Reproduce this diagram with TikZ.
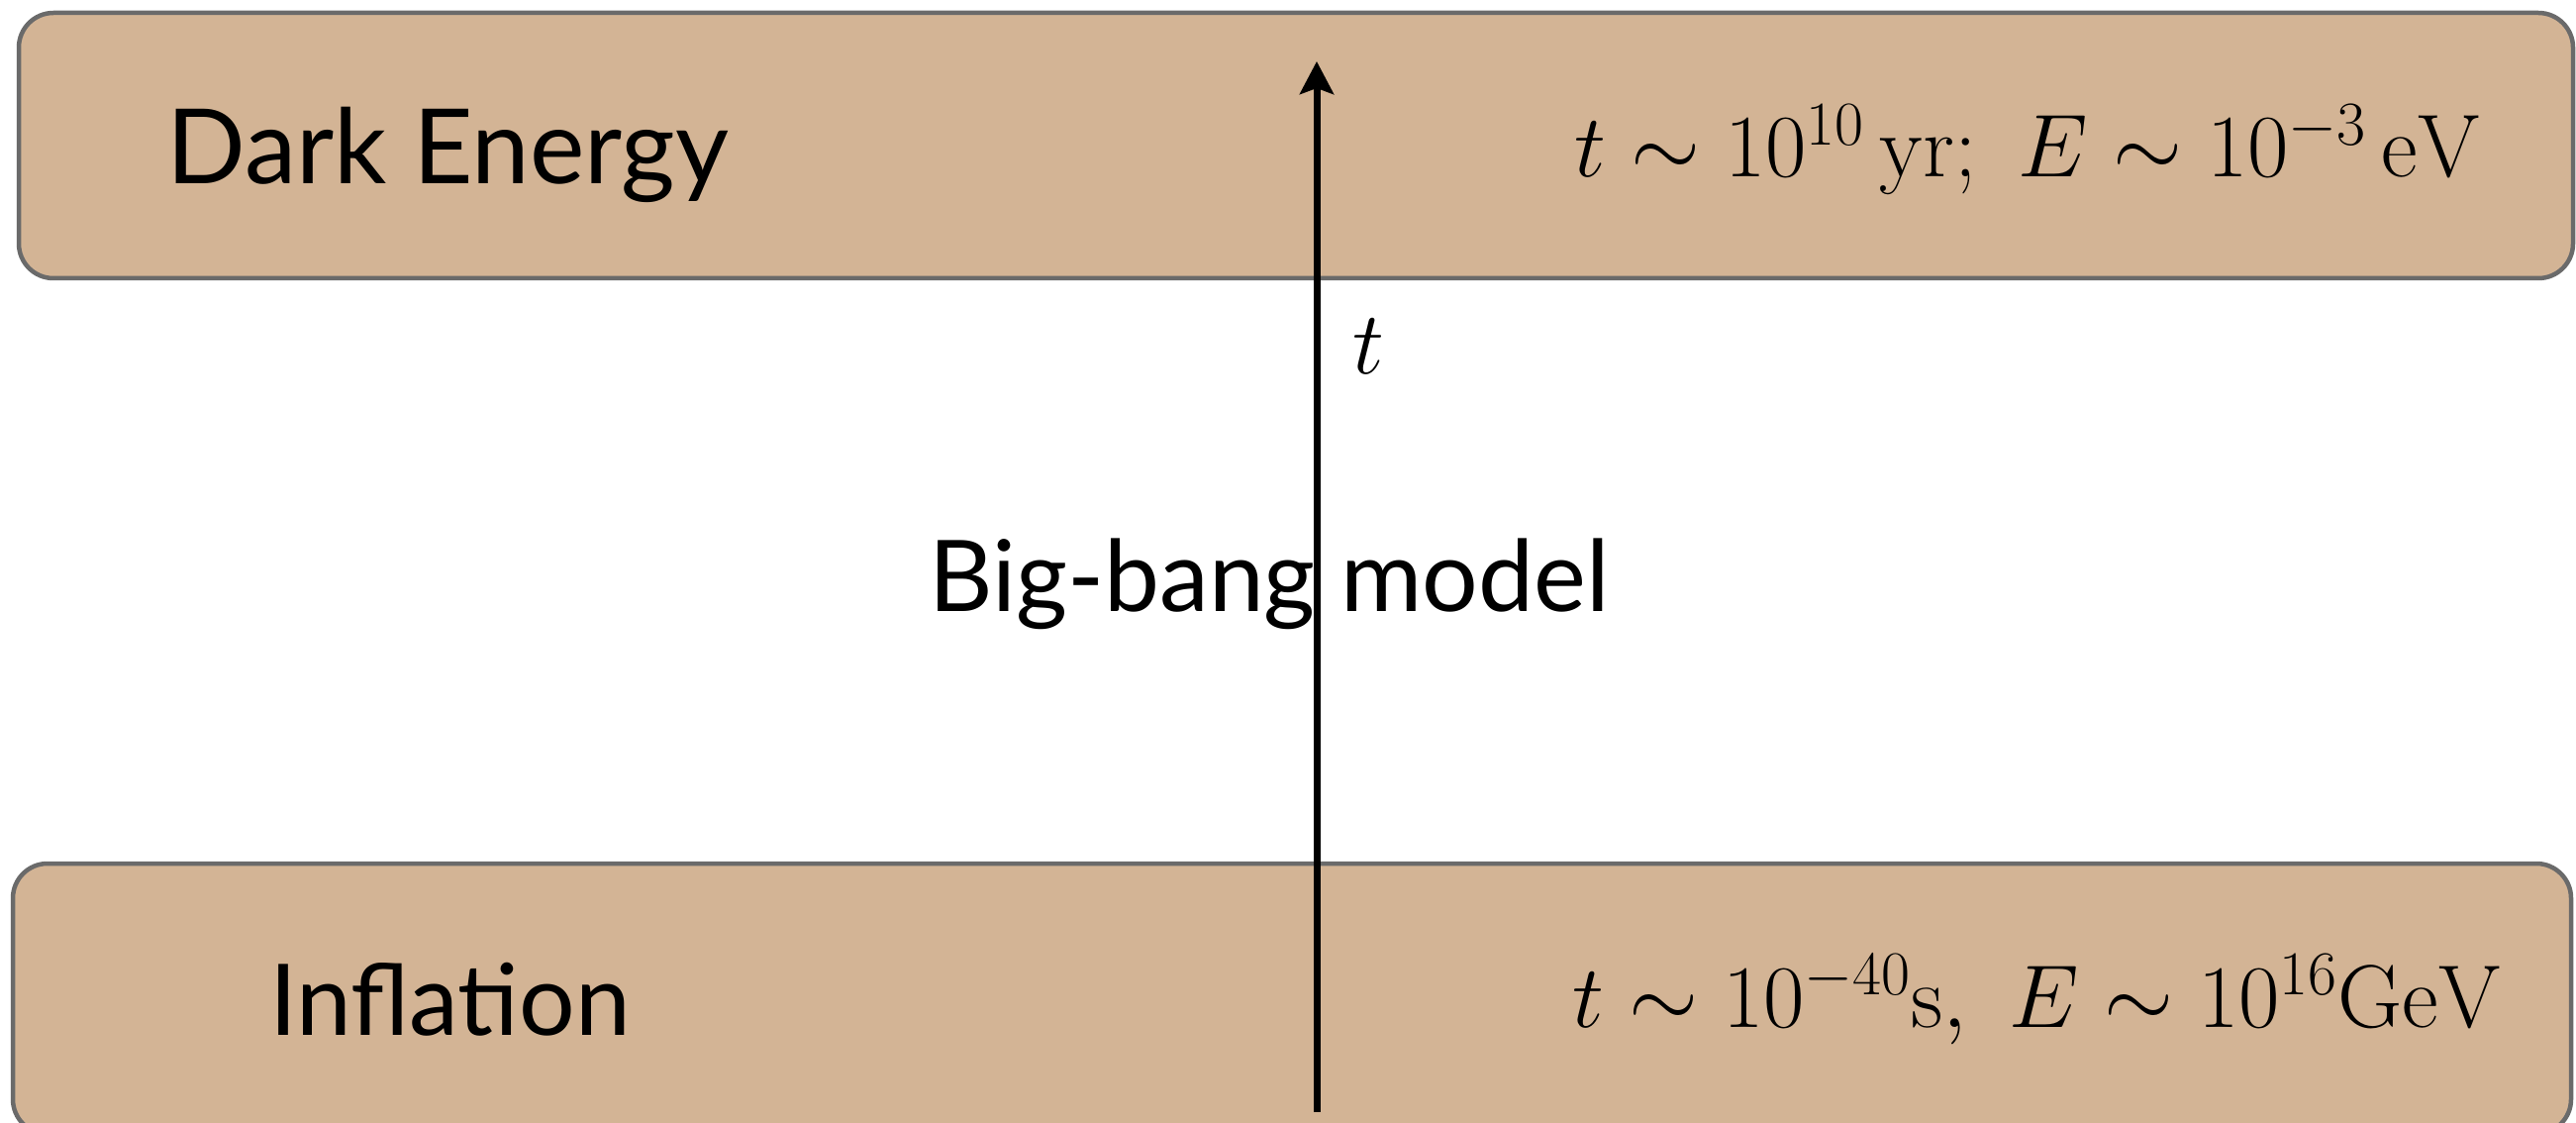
\RequirePackage{fix-cm}
\documentclass[tikz,border=0pt]{standalone}
\usepackage{fontspec}
\newfontfamily\gill{Lato}
\usetikzlibrary{arrows.meta}
\definecolor{tan}{RGB}{211,180,149}
\definecolor{edge}{RGB}{106,106,106}
\tikzset{
  era/.style={draw=edge, line width=2.25pt, fill=tan, rounded corners=17.5pt, inner sep=0pt},
  lbl/.style={inner sep=0pt, anchor=base west, font=\gill\fontsize{50}{60}\selectfont},
  mth/.style={inner sep=0pt, anchor=base west, font=\fontsize{45}{54}\selectfont},
}
\begin{document}
\begin{tikzpicture}[x=0.5pt,y=-0.5pt]
\clip (0,0) rectangle (2602,1134);
\fill[white] (0,0) rectangle (2602,1134);
\node[era, minimum width=1290pt, minimum height=134pt] (de) at (1309,147) {};
\node[era, minimum width=1292pt, minimum height=136.5pt] (inf) at (1305,1008.5) {};
\node[lbl, font=\gill\fontsize{52.5}{60}\selectfont] (delbl) at (168,186) {Dark Energy};
\node[lbl] (inflbl) at (272,1045) {Inflation};
\node[lbl] (bb) at (938,617) {Big-bang model};
\node[mth] (detxt) at (1590,179) {$t\sim 10^{10}\,\mathrm{yr};\ E\sim 10^{-3}\,\mathrm{eV}$};
\node[mth] (inftxt) at (1588,1037) {$t\sim 10^{-40}\mathrm{s},\ E\sim 10^{16}\mathrm{GeV}$};
\coordinate (start) at (1330,1123);
\coordinate (tip) at (1330,62);
\draw[line width=3.5pt, -{Stealth[length=16.5pt,width=17pt,inset=3pt]}] (start) -- (tip);
\node[mth] (tlbl) at (1366,377) {$t$};
\end{tikzpicture}
\end{document}
